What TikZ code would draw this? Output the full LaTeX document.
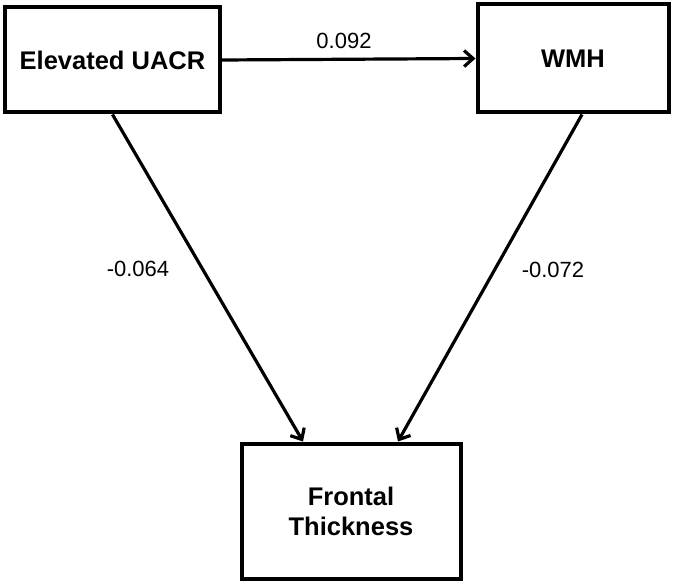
\documentclass[tikz,border=0pt]{standalone}
\usepackage{fontspec}
\setmainfont{Liberation Sans}
\usetikzlibrary{arrows.meta}

\begin{document}
\begin{tikzpicture}[x=1pt,y=-1pt,>={Straight Barb[length=9pt,width=16pt]}]
  \tikzstyle{var}=[rectangle,draw=black,line width=4pt,align=center,font=\fontsize{25.5}{30}\selectfont\bfseries,inner sep=0pt]
  \tikzstyle{path}=[->,line width=3.2pt,black]
  \tikzstyle{coef}=[font=\fontsize{22}{26}\selectfont]

    \useasboundingbox (0,0) rectangle (675,585);
    \node [var,minimum width=215,minimum height=105] (uacr) at (112.5,60) {Elevated UACR}; %X
    \node [var,minimum width=191,minimum height=108] (wmh) at (573,58.5) {WMH}; %M
    \node [var,minimum width=219,minimum height=135] (ft) at (351,511) {Frontal\\Thickness}; %Y

    \draw [path] (uacr.east) -- (wmh.west);
    \draw [path] (uacr.south) -- ([xshift=-48]ft.north);
    \draw [path] ([xshift=9]wmh.south) -- ([xshift=47]ft.north);

    \node [coef] (a) at (344,41) {0.092};
    \node [coef] (c) at (138,269) {-0.064};
    \node [coef] (b) at (553,270) {-0.072};
\end{tikzpicture}
\end{document}
